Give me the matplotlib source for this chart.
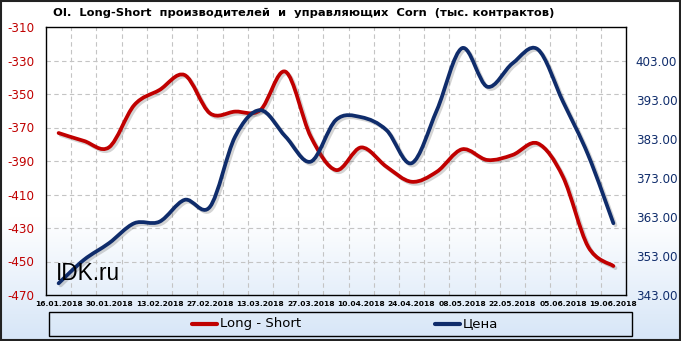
import matplotlib
matplotlib.use('Agg')
import matplotlib.pyplot as plt
import matplotlib.patheffects as pe
from matplotlib.path import Path
from matplotlib.patches import PathPatch, Rectangle
from matplotlib.lines import Line2D
import numpy as np

# weekly data, 16.01.2018 .. 19.06.2018
dates = ['16.01.2018', '23.01.2018', '30.01.2018', '06.02.2018', '13.02.2018', '20.02.2018',
         '27.02.2018', '06.03.2018', '13.03.2018', '20.03.2018', '27.03.2018', '03.04.2018',
         '10.04.2018', '17.04.2018', '24.04.2018', '01.05.2018', '08.05.2018', '15.05.2018',
         '22.05.2018', '29.05.2018', '05.06.2018', '12.06.2018', '19.06.2018']
long_short = [-373.3, -378.0, -381.8, -356.6, -347.6, -338.7, -361.5, -360.5, -359.6, -336.7,
              -375.5, -395.4, -381.9, -393.4, -402.4, -396.4, -383.0, -389.4, -386.4, -379.5,
              -399.4, -441.2, -452.7]
price = [346.0, 352.0, 356.3, 361.4, 361.8, 367.4, 365.6, 383.6, 390.4, 383.6, 377.2, 387.9,
         388.6, 385.3, 376.8, 390.4, 406.3, 396.4, 402.4, 406.0, 392.6, 378.9, 361.4]

left_ticks = [-310, -330, -350, -370, -390, -410, -430, -450, -470]
right_ticks = [343, 353, 363, 373, 383, 393, 403]

RED = '#c00000'
NAVY = '#0f2c6b'


def smooth_path(x, y):
    # excel-like smoothed line: catmull-rom segments as cubic beziers
    pts = np.column_stack([x, y])
    n = len(pts)
    verts = [pts[0]]
    codes = [Path.MOVETO]
    for i in range(n - 1):
        p0 = pts[max(i - 1, 0)]
        p1 = pts[i]
        p2 = pts[i + 1]
        p3 = pts[min(i + 2, n - 1)]
        c1 = p1 + (p2 - p0) / 6.0
        c2 = p2 - (p3 - p1) / 6.0
        verts += [c1, c2, p2]
        codes += [Path.CURVE4] * 3
    return Path(verts, codes)


W, H = 681, 341
fig = plt.figure(figsize=(W / 100, H / 100), dpi=100)

# background gradient
bg = fig.add_axes([0, 0, 1, 1], zorder=-10)
yy = np.linspace(0, 1, 200)[:, None]
t = np.clip((yy - 0.64) / 0.36, 0, 1)
top = np.array([1.0, 1.0, 1.0])
bot = np.array([0.84, 0.90, 0.97])
grad = top * (1 - t[..., None]) + bot * t[..., None]
grad = np.repeat(grad, 2, axis=1)
bg.imshow(grad, aspect='auto', extent=[0, 1, 0, 1], origin='upper')
bg.set_axis_off()

ax = fig.add_axes([46 / W, (H - 295) / H, 580 / W, 268 / H])
ax.set_facecolor('none')
x = np.arange(len(dates))
ax.set_xlim(-0.5, len(dates) - 0.5)
ax.set_ylim(-470, -310)
ax.set_yticks(left_ticks)
ax.set_yticklabels([str(v) for v in left_ticks], color=RED, fontsize=8.6)
ax.set_xticks(x[::2])
ax.set_xticklabels(dates[::2], fontsize=5.4, fontweight='bold')
ax.tick_params(axis='both', length=0)
ax.tick_params(axis='x', pad=4)
ax.tick_params(axis='y', pad=8.5)
for yv in left_ticks[1:-1]:
    ax.axhline(yv, color='#c4c4c4', lw=0.8, ls=(0, (4, 3)), zorder=0)
for xv in np.arange(0.5, len(dates) - 1, 1.0):
    ax.axvline(xv, color='#c4c4c4', lw=0.8, ls=(0, (4, 3)), zorder=0)
for s in ax.spines.values():
    s.set_linewidth(1.0)
    s.set_color('black')

ax2 = ax.twinx()
ax2.set_ylim(343, 343 + 268 / 3.9)
ax2.set_yticks(right_ticks)
ax2.set_yticklabels(['%.2f' % v for v in right_ticks], color=NAVY, fontsize=8.6)
ax2.tick_params(axis='y', length=0, pad=7)
for s in ax2.spines.values():
    s.set_visible(False)

shadow = [pe.SimpleLineShadow(offset=(1.5, -1.5), shadow_color='#555555', alpha=0.25),
          pe.Normal()]
red_patch = PathPatch(smooth_path(x, long_short), fill=False, edgecolor=RED, lw=2.7,
                      capstyle='round', joinstyle='round', path_effects=shadow, zorder=3)
ax.add_patch(red_patch)
blue_patch = PathPatch(smooth_path(x, price), fill=False, edgecolor=NAVY, lw=2.7,
                       capstyle='round', joinstyle='round', path_effects=shadow, zorder=3)
ax2.add_patch(blue_patch)

# watermark
fig.text(56 / W, (H - 280) / H, 'IDK.ru', fontsize=16.3, family='Liberation Sans',
         color='black', ha='left', va='baseline', zorder=5)

fig.text(53 / W, (H - 13) / H, 'OI.  Long-Short  производителей  и  управляющих  Corn  (тыс. контрактов)',
         fontsize=8.25, fontweight='bold', ha='left', va='center')

# legend
fig.patches.append(Rectangle((49 / W, (H - 336) / H), 583 / W, 24 / H, transform=fig.transFigure,
                             facecolor='none', edgecolor='black', lw=1.0))
ly = (H - 324) / H
fig.lines.append(Line2D([192 / W, 217 / W], [ly, ly], transform=fig.transFigure,
                        color=RED, lw=3.0, solid_capstyle='round'))
fig.text(220 / W, ly, 'Long - Short', fontsize=9.5, ha='left', va='center')
fig.lines.append(Line2D([435 / W, 460 / W], [ly, ly], transform=fig.transFigure,
                        color=NAVY, lw=3.0, solid_capstyle='round'))
fig.text(463 / W, ly, 'Цена', fontsize=9.5, ha='left', va='center')

# outer border
fig.patches.append(Rectangle((0.001, 0.002), 0.997, 0.995, transform=fig.transFigure,
                             facecolor='none', edgecolor='#222222', lw=1.5))

fig.savefig('out.png', dpi=100)
